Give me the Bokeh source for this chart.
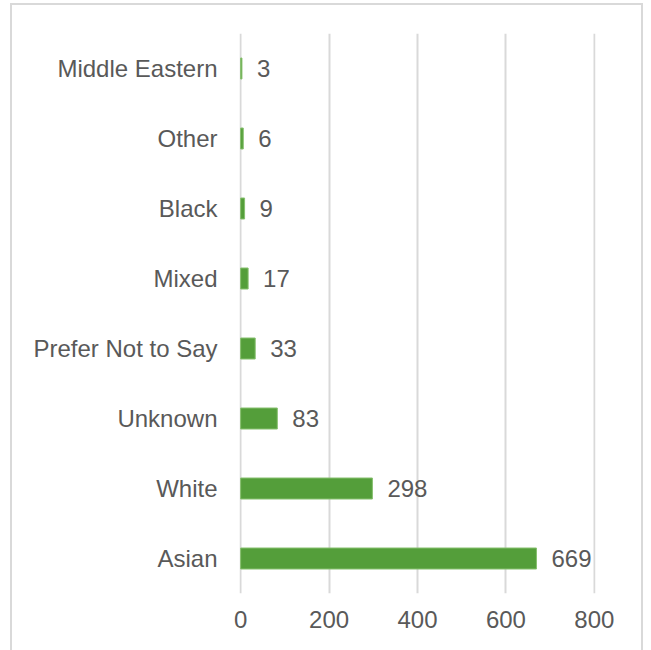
from bokeh.plotting import figure
from bokeh.models import FactorRange, Range1d, FixedTicker, ColumnDataSource, LabelSet
from bokeh.core.properties import value
from bokeh.embed import file_html
from bokeh.resources import INLINE

categories = ["Asian", "White", "Unknown", "Prefer Not to Say", "Mixed", "Black", "Other", "Middle Eastern"]
counts = [669, 298, 83, 33, 17, 9, 6, 3]
x_ticks = [0, 200, 400, 600, 800]

FONT = "Liberation Sans"
TEXT_COLOR = "#595959"
GRID = "#d9d9d9"
BAR = "#549E3A"

src = ColumnDataSource(dict(cat=categories, val=counts, lbl=[str(v) for v in counts]))

p = figure(width=633, height=650, output_backend="svg", toolbar_location=None,
           y_range=FactorRange(*categories, range_padding=0),
           x_range=Range1d(-2.5, 802.5),
           min_border_left=227, min_border_right=50, min_border_top=28, min_border_bottom=62)
p.margin = (3, 0, 0, 10)
p.styles = {"border": "2px solid #d9d9d9"}
p.outline_line_color = None
p.background_fill_color = "white"
p.border_fill_color = "white"

p.hbar(y="cat", right="val", left=0, height=0.3, source=src,
       fill_color=BAR, line_color="#86c06e", line_width=1)

labels = LabelSet(x="val", y="cat", text="lbl", source=src, x_offset=15,
                  text_align="left", text_baseline="middle",
                  text_font=value(FONT), text_font_size="24px", text_color=TEXT_COLOR)
p.add_layout(labels)

p.xaxis.ticker = FixedTicker(ticks=x_ticks)
p.xaxis.axis_line_color = None
p.xaxis.major_tick_line_color = None
p.xaxis.minor_tick_line_color = None
p.xaxis.major_tick_in = 0
p.xaxis.major_tick_out = 0
p.xaxis.major_label_standoff = 17
p.xaxis.major_label_text_font = FONT
p.xaxis.major_label_text_font_size = "24px"
p.xaxis.major_label_text_color = TEXT_COLOR

p.yaxis.axis_line_color = None
p.yaxis.major_tick_line_color = None
p.yaxis.major_tick_in = 0
p.yaxis.major_tick_out = 0
p.yaxis.major_label_standoff = 22
p.yaxis.major_label_text_font = FONT
p.yaxis.major_label_text_font_size = "24px"
p.yaxis.major_label_text_color = TEXT_COLOR

p.ygrid.grid_line_color = None
p.xgrid.grid_line_color = GRID
p.xgrid.grid_line_width = 2

open("out.html", "w").write(file_html(p, INLINE))
